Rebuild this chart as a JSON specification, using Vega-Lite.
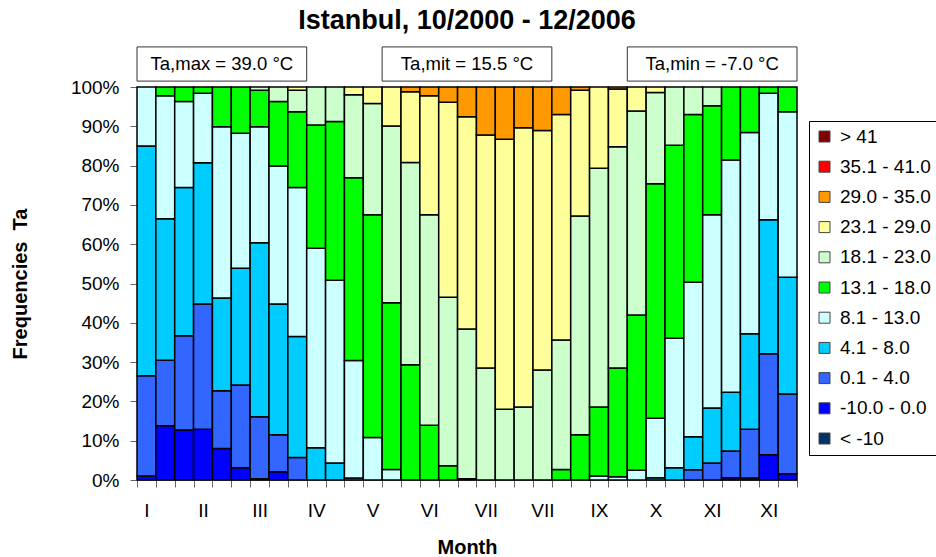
{
  "$schema": "https://vega.github.io/schema/vega-lite/v6.json",
  "width": 660,
  "height": 393,
  "autosize": {"type": "none"},
  "padding": {"left": 137, "top": 87, "right": 139, "bottom": 77},
  "background": "white",
  "config": {
    "font": "Liberation Sans",
    "view": {"stroke": null},
    "axis": {"labelColor": "#000", "labelFontSize": 19, "titleFontSize": 20, "titleFontWeight": "bold", "titleColor": "#000", "domainColor": "#666", "tickColor": "#666", "grid": false, "labelOverlap": false}
  },
  "title": {"text": "Istanbul, 10/2000 - 12/2006", "fontSize": 27, "fontWeight": "bold", "font": "Liberation Sans", "color": "#000", "anchor": "middle", "frame": "group", "offset": 11},
  "datasets": {
    "classes": [
      {"k": 1, "cls": "< -10"},
      {"k": 2, "cls": "-10.0 - 0.0"},
      {"k": 3, "cls": "0.1 - 4.0"},
      {"k": 4, "cls": "4.1 - 8.0"},
      {"k": 5, "cls": "8.1 - 13.0"},
      {"k": 6, "cls": "13.1 - 18.0"},
      {"k": 7, "cls": "18.1 - 23.0"},
      {"k": 8, "cls": "23.1 - 29.0"},
      {"k": 9, "cls": "29.0 - 35.0"},
      {"k": 10, "cls": "35.1 - 41.0"},
      {"k": 11, "cls": "> 41"}
    ],
    "freq": [
      {"b":1,"k":2,"p":1.0},{"b":1,"k":3,"p":25.5},{"b":1,"k":4,"p":58.5},{"b":1,"k":5,"p":15.0},
      {"b":2,"k":2,"p":13.8},{"b":2,"k":3,"p":16.7},{"b":2,"k":4,"p":36.0},{"b":2,"k":5,"p":31.3},{"b":2,"k":6,"p":2.2},
      {"b":3,"k":2,"p":12.7},{"b":3,"k":3,"p":24.0},{"b":3,"k":4,"p":37.7},{"b":3,"k":5,"p":21.9},{"b":3,"k":6,"p":3.7},
      {"b":4,"k":2,"p":12.9},{"b":4,"k":3,"p":31.9},{"b":4,"k":4,"p":35.9},{"b":4,"k":5,"p":17.7},{"b":4,"k":6,"p":1.6},
      {"b":5,"k":2,"p":8.0},{"b":5,"k":3,"p":14.7},{"b":5,"k":4,"p":23.6},{"b":5,"k":5,"p":43.6},{"b":5,"k":6,"p":10.1},
      {"b":6,"k":2,"p":3.1},{"b":6,"k":3,"p":21.1},{"b":6,"k":4,"p":29.7},{"b":6,"k":5,"p":34.3},{"b":6,"k":6,"p":11.8},
      {"b":7,"k":2,"p":0.3},{"b":7,"k":3,"p":15.8},{"b":7,"k":4,"p":44.3},{"b":7,"k":5,"p":29.5},{"b":7,"k":6,"p":9.3},{"b":7,"k":7,"p":0.8},
      {"b":8,"k":2,"p":2.1},{"b":8,"k":3,"p":9.4},{"b":8,"k":4,"p":33.3},{"b":8,"k":5,"p":35.1},{"b":8,"k":6,"p":16.4},{"b":8,"k":7,"p":3.7},
      {"b":9,"k":3,"p":5.7},{"b":9,"k":4,"p":30.8},{"b":9,"k":5,"p":37.9},{"b":9,"k":6,"p":19.3},{"b":9,"k":7,"p":5.5},{"b":9,"k":8,"p":0.8},
      {"b":10,"k":4,"p":8.2},{"b":10,"k":5,"p":50.8},{"b":10,"k":6,"p":31.3},{"b":10,"k":7,"p":9.7},
      {"b":11,"k":4,"p":4.3},{"b":11,"k":5,"p":46.5},{"b":11,"k":6,"p":40.4},{"b":11,"k":7,"p":8.8},
      {"b":12,"k":4,"p":0.5},{"b":12,"k":5,"p":29.9},{"b":12,"k":6,"p":46.5},{"b":12,"k":7,"p":21.1},{"b":12,"k":8,"p":2.0},
      {"b":13,"k":5,"p":10.8},{"b":13,"k":6,"p":56.7},{"b":13,"k":7,"p":28.3},{"b":13,"k":8,"p":4.2},
      {"b":14,"k":5,"p":2.7},{"b":14,"k":6,"p":42.4},{"b":14,"k":7,"p":45.0},{"b":14,"k":8,"p":9.9},
      {"b":15,"k":6,"p":29.3},{"b":15,"k":7,"p":51.5},{"b":15,"k":8,"p":18.0},{"b":15,"k":9,"p":1.2},
      {"b":16,"k":6,"p":13.9},{"b":16,"k":7,"p":53.6},{"b":16,"k":8,"p":30.3},{"b":16,"k":9,"p":2.2},
      {"b":17,"k":6,"p":3.6},{"b":17,"k":7,"p":42.9},{"b":17,"k":8,"p":49.6},{"b":17,"k":9,"p":3.9},
      {"b":18,"k":6,"p":0.3},{"b":18,"k":7,"p":38.1},{"b":18,"k":8,"p":54.0},{"b":18,"k":9,"p":7.6},
      {"b":19,"k":7,"p":28.5},{"b":19,"k":8,"p":59.3},{"b":19,"k":9,"p":12.2},
      {"b":20,"k":7,"p":18.0},{"b":20,"k":8,"p":68.7},{"b":20,"k":9,"p":13.3},
      {"b":21,"k":7,"p":18.6},{"b":21,"k":8,"p":71.0},{"b":21,"k":9,"p":10.4},
      {"b":22,"k":7,"p":28.0},{"b":22,"k":8,"p":60.9},{"b":22,"k":9,"p":11.1},
      {"b":23,"k":6,"p":2.7},{"b":23,"k":7,"p":32.9},{"b":23,"k":8,"p":57.4},{"b":23,"k":9,"p":7.0},
      {"b":24,"k":6,"p":11.5},{"b":24,"k":7,"p":55.7},{"b":24,"k":8,"p":32.0},{"b":24,"k":9,"p":0.8},
      {"b":25,"k":5,"p":1.0},{"b":25,"k":6,"p":17.6},{"b":25,"k":7,"p":60.7},{"b":25,"k":8,"p":20.7},
      {"b":26,"k":5,"p":0.8},{"b":26,"k":6,"p":27.7},{"b":26,"k":7,"p":56.3},{"b":26,"k":8,"p":14.7},{"b":26,"k":9,"p":0.5},
      {"b":27,"k":5,"p":2.5},{"b":27,"k":6,"p":39.5},{"b":27,"k":7,"p":51.9},{"b":27,"k":8,"p":6.1},
      {"b":28,"k":4,"p":0.6},{"b":28,"k":5,"p":15.1},{"b":28,"k":6,"p":59.7},{"b":28,"k":7,"p":23.2},{"b":28,"k":8,"p":1.4},
      {"b":29,"k":4,"p":3.1},{"b":29,"k":5,"p":33.0},{"b":29,"k":6,"p":49.1},{"b":29,"k":7,"p":14.8},
      {"b":30,"k":3,"p":2.6},{"b":30,"k":4,"p":8.4},{"b":30,"k":5,"p":39.3},{"b":30,"k":6,"p":42.7},{"b":30,"k":7,"p":7.0},
      {"b":31,"k":3,"p":4.3},{"b":31,"k":4,"p":14.0},{"b":31,"k":5,"p":49.2},{"b":31,"k":6,"p":27.7},{"b":31,"k":7,"p":4.8},
      {"b":32,"k":2,"p":0.6},{"b":32,"k":3,"p":6.8},{"b":32,"k":4,"p":14.9},{"b":32,"k":5,"p":59.1},{"b":32,"k":6,"p":18.6},
      {"b":33,"k":2,"p":0.5},{"b":33,"k":3,"p":12.4},{"b":33,"k":4,"p":24.3},{"b":33,"k":5,"p":51.2},{"b":33,"k":6,"p":11.6},
      {"b":34,"k":2,"p":6.4},{"b":34,"k":3,"p":25.7},{"b":34,"k":4,"p":34.1},{"b":34,"k":5,"p":32.2},{"b":34,"k":6,"p":1.6},
      {"b":35,"k":2,"p":1.6},{"b":35,"k":3,"p":20.3},{"b":35,"k":4,"p":29.7},{"b":35,"k":5,"p":42.1},{"b":35,"k":6,"p":6.3}
    ],
    "boxes": [
      {"b": 5, "t": "Ta,max = 39.0 °C"},
      {"b": 18, "t": "Ta,mit = 15.5 °C"},
      {"b": 31, "t": "Ta,min = -7.0 °C"}
    ]
  },
  "layer": [
    {
      "data": {"name": "freq"},
      "transform": [{"lookup": "k", "from": {"data": {"name": "classes"}, "key": "k", "fields": ["cls"]}}],
      "mark": {"type": "bar", "stroke": "#000", "strokeWidth": 1.5},
      "encoding": {
        "x": {"field": "b", "type": "ordinal", "scale": {"paddingInner": 0, "paddingOuter": 0},
          "axis": {"title": "Month", "labelAngle": 0, "tickBand": "extent", "tickSize": 7, "labelPadding": 14, "titlePadding": 17,
            "labelExpr": "['I','','','II','','','III','','','IV','','','V','','','VI','','','VII','','','VII','','','IX','','','X','','','XI','','','XI',''][datum.value - 1]"}},
        "y": {"field": "p", "type": "quantitative", "stack": "normalize", "scale": {"domain": [0, 1]},
          "axis": {"title": "Frequencies\u00a0\u00a0Ta", "format": ".0%", "values": [0, 0.1, 0.2, 0.3, 0.4, 0.5, 0.6, 0.7, 0.8, 0.9, 1], "labelOverlap": false, "tickSize": 7, "labelPadding": 11, "titlePadding": 40}},
        "color": {"field": "cls", "type": "nominal",
          "scale": {"domain": ["> 41", "35.1 - 41.0", "29.0 - 35.0", "23.1 - 29.0", "18.1 - 23.0", "13.1 - 18.0", "8.1 - 13.0", "4.1 - 8.0", "0.1 - 4.0", "-10.0 - 0.0", "< -10"],
            "range": ["#800000", "#FF0000", "#FF9900", "#FFFF99", "#CCFFCC", "#00FF00", "#CCFFFF", "#00CCFF", "#3366FF", "#0000FF", "#003366"]},
          "legend": {"title": null, "orient": "none", "legendX": 672, "legendY": 34, "symbolType": "square", "symbolSize": 121, "symbolStrokeColor": "#444", "symbolStrokeWidth": 1, "labelFontSize": 19, "labelColor": "#000", "labelLimit": 300, "labelOffset": 6, "rowPadding": 10.2, "padding": 6, "strokeColor": "#000", "fillColor": "white"}},
        "order": {"field": "k", "type": "quantitative"}
      }
    },
    {
      "data": {"name": "boxes"},
      "mark": {"type": "bar", "fill": "white", "stroke": "#333", "strokeWidth": 1, "width": {"band": 9}},
      "encoding": {
        "x": {"field": "b", "type": "ordinal"},
        "y": {"datum": 1.015, "type": "quantitative", "scale": {"domain": [0, 1]},
          "axis": {"title": "Frequencies\u00a0\u00a0Ta", "format": ".0%", "values": [0, 0.1, 0.2, 0.3, 0.4, 0.5, 0.6, 0.7, 0.8, 0.9, 1], "labelOverlap": false, "tickSize": 7, "labelPadding": 11, "titlePadding": 40}},
        "y2": {"datum": 1.102}
      }
    },
    {
      "data": {"name": "boxes"},
      "mark": {"type": "text", "fontSize": 18.5, "color": "#000", "font": "Liberation Sans"},
      "encoding": {
        "x": {"field": "b", "type": "ordinal"},
        "y": {"datum": 1.058, "type": "quantitative", "scale": {"domain": [0, 1]},
          "axis": {"title": "Frequencies\u00a0\u00a0Ta", "format": ".0%", "values": [0, 0.1, 0.2, 0.3, 0.4, 0.5, 0.6, 0.7, 0.8, 0.9, 1], "labelOverlap": false, "tickSize": 7, "labelPadding": 11, "titlePadding": 40}},
        "text": {"field": "t"}
      }
    }
  ]
}
